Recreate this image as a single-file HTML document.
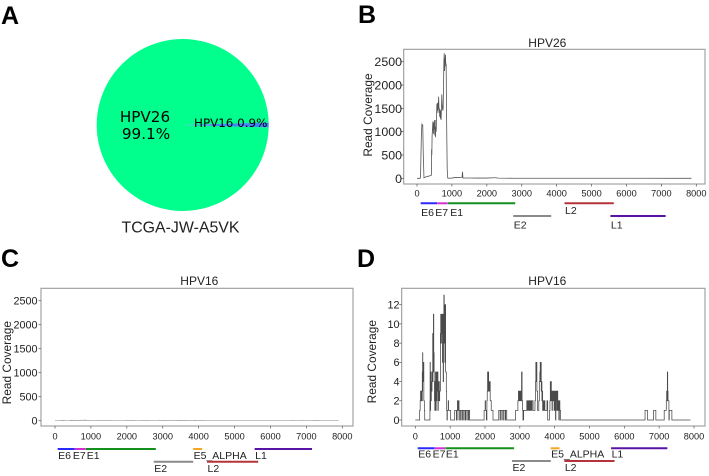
<!DOCTYPE html>
<html>
<head>
<meta charset="utf-8">
<title>HPV read coverage panels</title>
<style>
html,body{margin:0;padding:0;background:#fff;width:709px;height:476px;overflow:hidden}
svg{display:block;font-family:"Liberation Sans",sans-serif;filter:blur(0.3px)}
</style>
</head>
<body>
<svg id="fig" width="709" height="476" viewBox="0 0 709 476" xmlns="http://www.w3.org/2000/svg">
  <text x="1" y="24" font-size="25" font-weight="bold">A</text>
  <text x="358" y="23" font-size="25" font-weight="bold">B</text>
  <text x="1" y="267" font-size="25" font-weight="bold">C</text>
  <text x="357" y="267" font-size="25" font-weight="bold">D</text>
  <g id="pie"></g>
  <text x="145" y="122" font-size="15.2" text-anchor="middle" style="font-family:'DejaVu Sans',sans-serif">HPV26</text>
  <text x="146" y="139" font-size="15.2" text-anchor="middle" style="font-family:'DejaVu Sans',sans-serif">99.1%</text>
  <text x="194" y="127" font-size="11.9" style="font-family:'DejaVu Sans',sans-serif">HPV16 0.9%</text>
  <text x="180.5" y="232.5" font-size="15.9" text-anchor="middle" fill="#222">TCGA-JW-A5VK</text>
  <g id="panelB"></g>
  <g id="panelC"></g>
  <g id="panelD"></g>
</svg>
<script>
// Pie data
var pieShares = [99.1, 0.9];
var pieColors = ['#00ff8c', '#3f86f5'];

// Axis ticks
var xTicks = [0, 1000, 2000, 3000, 4000, 5000, 6000, 7000, 8000];
var yTicksWide = [0, 500, 1000, 1500, 2000, 2500];
var yTicksZoom = [0, 2, 4, 6, 8, 10, 12];

// HPV26 coverage (genome position, read depth)
var pos26 = [0,85,100,125,140,165,180,200,220,300,400,412,418,425,432,440,455,470,480,490,500,510,520,530,540,550,560,570,580,590,600,620,630,640,650,660,670,680,690,700,710,720,730,740,750,760,770,780,790,800,815,825,835,845,855,865,880,900,1000,1100,1200,1290,1305,1315,1325,1500,1700,2000,2200,2250,2320,2800,7860];
var cov26 = [0,0,10,900,1160,1140,500,10,20,40,60,70,620,500,900,1000,1220,950,1200,1050,1250,920,1100,880,1250,1000,1350,1600,1450,1620,1400,1750,1480,1500,1320,1480,1280,1450,1250,1500,1800,1600,1500,1450,1500,2000,2500,2680,2300,2500,2650,2400,2460,1500,800,200,5,2,5,18,18,22,140,10,6,6,5,5,12,12,3,1,0];

// HPV16 coverage (genome position, read depth)
var pos16 = [0,110,125,140,150,155,160,165,170,175,180,190,200,205,210,215,220,225,235,245,260,270,410,
  420,425,430,440,450,460,470,480,490,500,510,520,530,540,550,560,570,580,590,600,610,620,630,640,650,660,670,680,690,700,710,720,730,740,750,760,770,780,790,800,810,820,830,840,850,860,870,880,890,900,910,
  920,935,945,955,970,1000,1015,1120,1130,1170,1180,1200,1210,1225,1235,1255,1265,1300,1310,1345,1355,1390,1400,1435,1445,1480,1490,1525,1535,1560,
  1960,1975,2005,2015,2030,2040,2055,2065,2075,2085,2095,2105,2115,2125,2135,2150,2165,2180,2200,2230,2380,
  2395,2435,2445,2485,2495,2535,2545,2585,2595,2625,2860,
  2880,2925,2945,2960,2975,2990,3005,3020,3035,3050,3065,3080,3090,3110,3180,3200,3215,3230,3245,3260,3275,3290,3305,3320,3335,3350,3380,3420,
  3435,3450,3460,3470,3480,3490,3510,3525,3545,3560,3575,3585,3595,3605,3615,3625,3635,3645,3655,3665,3675,3685,3695,3705,3720,3760,3780,3800,3850,3865,3875,3885,3895,3905,3915,3925,3935,3945,3955,3965,3975,3985,3995,4005,4015,4025,4035,4045,4060,4075,4090,4105,4120,4135,4150,4170,
  6580,6595,6650,6665,6825,6840,6890,6905,7130,7145,7190,7205,7215,7225,7235,7245,7255,7265,7280,7290,7350,7365,7900];
var cov16 = [0,0,1,2,3,2,3,2,3,2,3,2,5,3,7,4,6,4,6,2,1,0,0,
  2,6,1,5,2,4,3,5,4,9,5,11,7,4,2,1,4,5,1,5,2,5,3,5,1,4,2,3,2,4,3,9,11,8,11,9,11,6,11,4,11,13,8,12,6,12,5,5,3,1,0,
  1,1,2,1,1,1,0,0,1,1,0,1,2,1,2,0,1,0,1,0,1,0,1,0,1,0,1,0,1,0,
  0,1,2,1,1,0,2,3,5,3,5,3,4,3,4,2,2,1,1,0,0,
  1,0,1,0,1,0,1,0,1,0,0,
  1,1,2,3,2,3,2,3,2,5,2,1,0,1,1,2,1,2,1,2,1,2,1,2,1,2,1,1,
  2,4,6,4,6,3,1,1,2,4,5,6,4,6,3,4,2,3,1,2,1,2,1,2,1,1,2,0,1,2,4,2,4,2,3,1,3,2,3,2,3,1,3,1,3,0,2,3,1,3,1,2,0,2,1,0,
  0,1,1,0,0,1,1,0,0,1,1,2,3,2,5,3,2,2,0,1,1,0,0];

// Gene annotations (genome coordinates)
var genes26 = ['E6','E7','E1','E2','L2','L1'];
var starts26 = [83,562,865,2755,4236,5560];
var ends26 = [559,858,2813,3852,5658,7155];
var rows26 = [0,0,0,1,0,1];
var colors26 = ['#2a2aff','#d22fd2','#14901e','#8a8a8a','#b5343c','#5a14a5'];
var genes16 = ['E6','E7','E1','E2','E5_ALPHA','L2','L1'];
var starts16 = [83,562,865,2755,3849,4236,5560];
var ends16 = [559,858,2813,3852,4100,5658,7155];
var rows16 = [0,0,0,1,0,1,0];
var colors16 = ['#2a2aff','#d22fd2','#14901e','#8a8a8a','#f5a623','#b5343c','#5a14a5'];

var NS = 'http://www.w3.org/2000/svg';
function mk(parent, tag, attrs, txt) {
  var e = document.createElementNS(NS, tag);
  for (var k in attrs) e.setAttribute(k, attrs[k]);
  if (txt !== undefined) e.textContent = txt;
  parent.appendChild(e);
  return e;
}

// Pie
(function () {
  var g = document.getElementById('pie');
  var cx = 182.7, cy = 125, r = 86;
  var total = pieShares[0] + pieShares[1];
  var half = pieShares[1] / total * Math.PI;
  var x1 = cx + r * Math.cos(half), y1 = cy + r * Math.sin(half);
  var x2 = cx + r * Math.cos(-half), y2 = cy + r * Math.sin(-half);
  var large = mk(g, 'path', {d: 'M' + cx + ' ' + cy + 'L' + x1 + ' ' + y1 + 'A' + r + ' ' + r + ' 0 1 1 ' + x2 + ' ' + y2 + 'Z', fill: pieColors[0]});
  
  
  var small = mk(g, 'path', {d: 'M' + cx + ' ' + cy + 'L' + x2 + ' ' + y2 + 'A' + r + ' ' + r + ' 0 0 1 ' + x1 + ' ' + y1 + 'Z', fill: pieColors[1]});
  
  
})();

function labelShift(name, amount) {
  if (name === 'E7') return -2;
  if (name === 'E1') return amount;
  return 0.5;
}

function panel(cfg) {
  var g = document.getElementById(cfg.id);
  var sx = function (v) { return cfg.x0 + v * cfg.xScale; };
  var sy = function (v) { return cfg.y0 - v * cfg.yScale; };
  var bx = function (v) { return cfg.barX0 + v * cfg.barScale; };

  var frame = mk(g, 'rect', {x: cfg.left, y: cfg.top, width: cfg.right - cfg.left, height: cfg.bottom - cfg.top, fill: 'none', stroke: '#9a9a9a', 'stroke-width': 1.1});
  
  

  xTicks.forEach(function (t) {
    var tick = mk(g, 'line', {x1: sx(t), x2: sx(t), y1: cfg.bottom, y2: cfg.bottom + 2.5, stroke: '#555', 'stroke-width': 0.7});
    
    
    var lab = mk(g, 'text', {x: sx(t), y: cfg.xLabelY, 'font-size': 9.2, 'text-anchor': 'middle', fill: '#222'}, String(t));
    
    
  });

  cfg.yTicks.forEach(function (t) {
    var tick = mk(g, 'line', {x1: cfg.left - 2.5, x2: cfg.left, y1: sy(t), y2: sy(t), stroke: '#555', 'stroke-width': 0.7});
    
    
    var lab = mk(g, 'text', {x: cfg.yLabelX, y: sy(t) + cfg.yFont * 0.36, 'font-size': cfg.yFont, 'text-anchor': 'end', fill: '#222'}, String(t));
    
    
  });

  var d = '';
  for (var i = 0; i < cfg.pos.length; i++) {
    var px = sx(cfg.pos[i]).toFixed(2), py = sy(cfg.cov[i]).toFixed(2);
    if (i === 0) d += 'M' + px + ' ' + py;
    else if (cfg.step) d += 'H' + px + 'V' + py;
    else d += 'L' + px + ' ' + py;
  }
  var line = mk(g, 'path', {d: d, fill: 'none', stroke: cfg.lineColor, 'stroke-width': cfg.lineWidth});
  
  

  var title = mk(g, 'text', {x: cfg.titleX, y: cfg.titleY, 'font-size': 12, 'text-anchor': 'middle', fill: '#222'}, cfg.title);
  
  

  var yt = mk(g, 'text', {x: 0, y: 0, 'font-size': 11.9, 'text-anchor': 'middle', fill: '#222', transform: 'translate(' + cfg.yTitleX + ' ' + cfg.yTitleY + ') rotate(-90)'}, 'Read Coverage');
  
  

  cfg.genes.forEach(function (name, k) {
    var yb = cfg.barY[cfg.rows[k]];
    var bar = mk(g, 'line', {x1: bx(cfg.starts[k]), x2: bx(cfg.ends[k]), y1: yb, y2: yb, stroke: cfg.colors[k], 'stroke-width': 2});
    
    
    var up = name === 'L2' && cfg.genes.length === 6;
    var ly = up ? cfg.l2Y : cfg.labelY[cfg.rows[k]];
    var lab = mk(g, 'text', {x: bx(cfg.starts[k]) + labelShift(name, cfg.e1Shift), y: ly, 'font-size': 10.5, fill: '#222'}, name);
    
    
  });
}

panel({id: 'panelB', title: 'HPV26', left: 403.7, right: 705, top: 49.3, bottom: 184,
  x0: 417, xScale: 279.3 / 8000, y0: 178.3, yScale: 116.6 / 2500, yTicks: yTicksWide, yFont: 12.4,
  xLabelY: 196.7, yLabelX: 402, titleX: 547.3, titleY: 47, yTitleX: 372, yTitleY: 115,
  pos: pos26, cov: cov26, lineColor: '#555', lineWidth: 0.8, step: false, e1Shift: 2.5,
  genes: genes26, starts: starts26, ends: ends26, rows: rows26, colors: colors26,
  barX0: 417.8, barScale: 0.03464, barY: [203.3, 216], labelY: [216, 228.3], l2Y: 214});

panel({id: 'panelC', title: 'HPV16', left: 41, right: 353, top: 288.3, bottom: 426,
  x0: 55, xScale: 287.3 / 8000, y0: 420.7, yScale: 120 / 2500, yTicks: yTicksWide, yFont: 10.8,
  xLabelY: 439.3, yLabelX: 37.5, titleX: 199.3, titleY: 285, yTitleX: 11, yTitleY: 362.7,
  pos: pos16, cov: cov16, lineColor: '#a0a0a0', lineWidth: 0.7, step: true, e1Shift: 1,
  genes: genes16, starts: starts16, ends: ends16, rows: rows16, colors: colors16,
  barX0: 54.7, barScale: 0.03596, barY: [449, 461.7], labelY: [459, 472], l2Y: 472});

panel({id: 'panelD', title: 'HPV16', left: 401.7, right: 705, top: 288.3, bottom: 426,
  x0: 415.3, xScale: 278.7 / 8000, y0: 420, yScale: 115.3 / 12, yTicks: yTicksZoom, yFont: 10.8,
  xLabelY: 439.3, yLabelX: 399.5, titleX: 547.3, titleY: 285, yTitleX: 376, yTitleY: 361.7,
  pos: pos16, cov: cov16, lineColor: '#4a4a4a', lineWidth: 0.75, step: true, e1Shift: 0.5,
  genes: genes16, starts: starts16, ends: ends16, rows: rows16, colors: colors16,
  barX0: 414.8, barScale: 0.0353, barY: [448.3, 461], labelY: [457.7, 471], l2Y: 471});
</script>
</body>
</html>
